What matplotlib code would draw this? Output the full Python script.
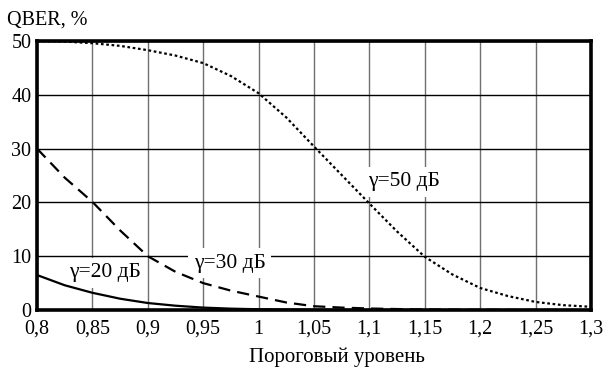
import matplotlib.pyplot as plt

# пороговый уровень
x = [0.800, 0.825, 0.850, 0.875, 0.900, 0.925, 0.950, 0.975, 1.000, 1.025,
     1.050, 1.075, 1.100, 1.125, 1.150, 1.175, 1.200, 1.225, 1.250, 1.275, 1.300]
qber_20 = [6.5, 4.6, 3.2, 2.1, 1.3, 0.8, 0.45, 0.25, 0.14, 0.08,
           0.05, 0.03, 0.02, 0.01, 0.0, 0.0, 0.0, 0.0, 0.0, 0.0, 0.0]
qber_30 = [30.0, 24.6, 20.1, 14.8, 10.0, 7.1, 5.0, 3.6, 2.5, 1.4,
           0.7, 0.45, 0.28, 0.18, 0.1, 0.06, 0.04, 0.02, 0.01, 0.0, 0.0]
qber_50 = [50.0, 49.9, 49.6, 49.1, 48.3, 47.3, 45.9, 43.5, 40.3, 35.8,
           30.4, 25.1, 19.8, 14.6, 9.9, 6.6, 4.1, 2.6, 1.5, 0.9, 0.6]

xticks = [0.8, 0.85, 0.9, 0.95, 1.0, 1.05, 1.1, 1.15, 1.2, 1.25, 1.3]
xtick_labels = ["0,8", "0,85", "0,9", "0,95", "1", "1,05", "1,1", "1,15", "1,2", "1,25", "1,3"]
yticks = [0, 10, 20, 30, 40, 50]

plt.rcParams["font.family"] = ["Liberation Serif", "DejaVu Serif"]

fig = plt.figure(figsize=(6.12, 3.71), dpi=100)
ax = fig.add_axes([0.0605, 0.1644, 0.905, 0.725])

ax.plot(x, qber_20, color="black", lw=1.6, zorder=3)
ax.plot(x, qber_30, color="black", lw=1.6, dashes=(5.5, 3.2), zorder=3)
ax.plot(x, qber_50, color="black", lw=1.6, dashes=(1.2, 1.2), zorder=3)

ax.set_xlim(0.8, 1.3)
ax.set_ylim(0, 50)
ax.set_xticks(xticks)
ax.set_xticklabels(xtick_labels)
ax.set_yticks(yticks)
ax.tick_params(axis="x", length=0, labelsize=14.5, pad=7)
ax.tick_params(axis="y", length=0, labelsize=14.5, pad=4)
# подписи по оси Y чуть выше, чтобы "0" не наезжал на "0,8"
for lab in ax.get_yticklabels():
    lab.set_va("center_baseline")

ax.xaxis.grid(True, color="#707070", lw=1.0)
ax.yaxis.grid(True, color="black", lw=1.0)
ax.set_axisbelow(True)
for s in ax.spines.values():
    s.set_linewidth(2.6)

fig.text(0.551, 0.038, "Пороговый уровень", fontsize=15, ha="center", va="center")
fig.text(0.011, 0.946, "QBER, %", fontsize=14.5, ha="left", va="center")

box = dict(boxstyle="square,pad=0.25", facecolor="white", edgecolor="none")
ax.text(1.131, 23.8, "γ=50 дБ", fontsize=15.5, ha="center", va="center", bbox=box, zorder=2)
ax.text(0.974, 8.7, "γ=30 дБ", fontsize=15.5, ha="center", va="center", bbox=box, zorder=2)
ax.text(0.861, 6.9, "γ=20 дБ", fontsize=15.5, ha="center", va="center", bbox=box, zorder=2)

fig.savefig("out.png", dpi=100)
